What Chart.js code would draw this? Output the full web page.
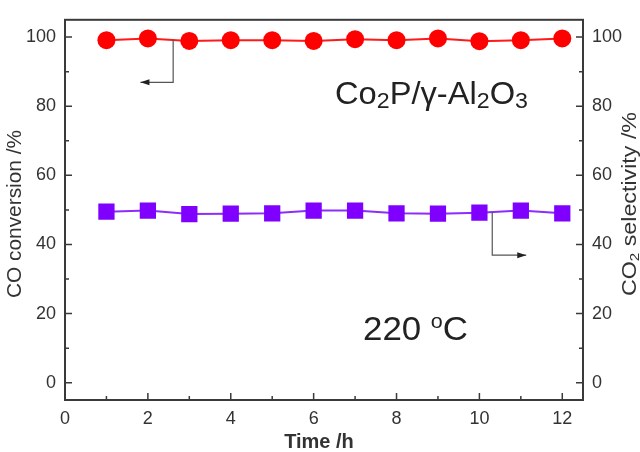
<!DOCTYPE html>
<html>
<head>
<meta charset="utf-8">
<script src="https://cdn.jsdelivr.net/npm/chart.js@4/dist/chart.umd.min.js"></script>
<style>
  html, body { margin: 0; padding: 0; background: #fff; }
  #chartBox { width: 640px; height: 452px; }
</style>
</head>
<body>
<div id="chartBox"><canvas id="stabilityChart" width="640" height="452"></canvas></div>
<script>
// values
const hours = [1, 2, 3, 4, 5, 6, 7, 8, 9, 10, 11, 12];
const coConversion = [99.1, 99.6, 98.9, 99.1, 99.1, 98.9, 99.4, 99.1, 99.6, 98.8, 99.1, 99.6];
const co2Selectivity = [49.5, 49.8, 48.8, 48.9, 49.0, 49.8, 49.8, 49.0, 48.9, 49.2, 49.8, 49.0];
const xTicks = [0, 2, 4, 6, 8, 10, 12];
const xMinor = [1, 3, 5, 7, 9, 11];
const yTicks = [0, 20, 40, 60, 80, 100];
const yMinor = [10, 30, 50, 70, 90];
// axis pointers, [time, value]; last point is the arrow tip
const convArrow = [[2.61, 99.2], [2.61, 86.9], [1.82, 86.9]];
const selArrow = [[10.31, 49.4], [10.31, 36.9], [11.13, 36.9]];

// text pieces: [text, kind]  kind: n = normal, sub, sup
const catalystLabel = [['Co', 'n'], ['2', 'sub'], ['P/γ-Al', 'n'], ['2', 'sub'], ['O', 'n'], ['3', 'sub']];
const tempLabel = [['220 ', 'n'], ['o', 'sup'], ['C', 'n']];
const leftTitle = [['CO conversion /%', 'n']];
const rightTitle = [['CO', 'n'], ['2', 'sub'], [' selectivity /%', 'n']];
const xTitle = 'Time /h';

const FONT = '"Liberation Sans", Arial, Helvetica, sans-serif';
const AXIS = '#3a3a3a';

// draws pieces with sub/superscripts, centred or left aligned, optional forced width
function drawRich(ctx, parts, x, y, size, opts) {
  opts = opts || {};
  const small = Math.round(size * (opts.smallRatio || 0.68));
  const fontFor = k => `${opts.bold ? 'bold ' : ''}${k === 'n' ? size : small}px ${FONT}`;
  let total = 0;
  parts.forEach(([t, k]) => { ctx.font = fontFor(k); total += ctx.measureText(t).width; });
  const sx = opts.width ? opts.width / total : 1;
  ctx.save();
  ctx.translate(x, y);
  if (opts.rotate) ctx.rotate(opts.rotate);
  ctx.scale(sx, 1);
  let cx = opts.align === 'center' ? -total / 2 : 0;
  ctx.fillStyle = opts.color || '#222';
  ctx.textBaseline = 'alphabetic';
  ctx.textAlign = 'left';
  parts.forEach(([t, k]) => {
    ctx.font = fontFor(k);
    let dy = 0;
    if (k === 'sub') dy = size * 0.13;
    if (k === 'sup') dy = -size * 0.36;
    ctx.fillText(t, cx, dy);
    cx += ctx.measureText(t).width;
  });
  ctx.restore();
}

function drawPointer(chart, path) {
  const { ctx, scales } = chart;
  const yScale = path === convArrow ? scales.y : scales.y2;
  const pts = path.map(([t, v]) => [scales.x.getPixelForValue(t), yScale.getPixelForValue(v)]);
  ctx.save();
  ctx.strokeStyle = '#555';
  ctx.lineWidth = 1.2;
  ctx.beginPath();
  pts.forEach(([px, py], i) => i ? ctx.lineTo(px, py) : ctx.moveTo(px, py));
  ctx.stroke();
  const [tx, ty] = pts[pts.length - 1];
  const [bx] = pts[pts.length - 2];
  const dir = tx < bx ? 1 : -1;
  ctx.fillStyle = '#222';
  ctx.beginPath();
  ctx.moveTo(tx, ty);
  ctx.lineTo(tx + dir * 9, ty - 3);
  ctx.lineTo(tx + dir * 9, ty + 3);
  ctx.closePath();
  ctx.fill();
  ctx.restore();
}

const framePlugin = {
  id: 'frame',
  beforeDatasetsDraw(chart) {
    const { ctx, chartArea: a, scales } = chart;
    ctx.save();
    ctx.strokeStyle = AXIS;
    ctx.lineWidth = 2;
    ctx.strokeRect(a.left, a.top, a.right - a.left, a.bottom - a.top);
    ctx.lineWidth = 1.5;
    ctx.beginPath();
    xTicks.concat(xMinor).forEach(v => {
      const px = scales.x.getPixelForValue(v);
      const len = xTicks.includes(v) ? 7 : 4;
      ctx.moveTo(px, a.bottom); ctx.lineTo(px, a.bottom - len);
    });
    yTicks.concat(yMinor).forEach(v => {
      const py = scales.y.getPixelForValue(v);
      const len = yTicks.includes(v) ? 7 : 4;
      ctx.moveTo(a.left, py); ctx.lineTo(a.left + len, py);
      ctx.moveTo(a.right, py); ctx.lineTo(a.right - len, py);
    });
    ctx.stroke();
    ctx.restore();
  },
  afterDatasetsDraw(chart) {
    const { ctx } = chart;
    drawPointer(chart, convArrow);
    drawPointer(chart, selArrow);
    drawRich(ctx, catalystLabel, 335, 104, 31, { width: 193, smallRatio: 0.72 });
    drawRich(ctx, tempLabel, 363, 340, 34, { width: 105, smallRatio: 0.62 });
    drawRich(ctx, leftTitle, 21, 214, 20, { align: 'center', rotate: -Math.PI / 2, color: '#333', width: 168 });
    drawRich(ctx, rightTitle, 636, 204, 20, { align: 'center', rotate: -Math.PI / 2, color: '#333', smallRatio: 0.65, width: 184 });
    drawRich(ctx, [[xTitle, 'n']], 319, 448, 20, { align: 'center', bold: true, color: '#333' });
  }
};

const tickFont = { family: FONT, size: 18 };

function yAxis(position, width) {
  return {
    type: 'linear',
    position,
    min: -5,
    max: 105,
    afterBuildTicks: s => { s.ticks = yTicks.map(v => ({ value: v })); },
    afterFit: s => { s.width = width; },
    ticks: { font: tickFont, color: '#333', padding: 9 },
    grid: { drawOnChartArea: false, drawTicks: false },
    border: { display: false }
  };
}

const ctx = document.getElementById('stabilityChart').getContext('2d');
new Chart(ctx, {
  type: 'line',
  data: {
    datasets: [
      {
        label: 'CO conversion',
        data: hours.map((h, i) => ({ x: h, y: coConversion[i] })),
        yAxisID: 'y',
        borderColor: '#ff1a1a',
        backgroundColor: '#ff0000',
        borderWidth: 2,
        pointStyle: 'circle',
        pointRadius: 9,
        pointBorderWidth: 0,
        tension: 0
      },
      {
        label: 'CO2 selectivity',
        data: hours.map((h, i) => ({ x: h, y: co2Selectivity[i] })),
        yAxisID: 'y2',
        borderColor: '#8c2cff',
        backgroundColor: '#7f00ff',
        borderWidth: 2,
        pointStyle: 'rect',
        pointRadius: 11.5,
        pointBorderWidth: 0,
        tension: 0
      }
    ]
  },
  options: {
    responsive: false,
    animation: false,
    devicePixelRatio: 1,
    layout: { padding: { top: 15, right: 0, left: 0, bottom: 0 } },
    plugins: { legend: { display: false }, tooltip: { enabled: false } },
    scales: {
      x: {
        type: 'linear',
        min: 0,
        max: 12.5,
        afterBuildTicks: s => { s.ticks = xTicks.map(v => ({ value: v })); },
        afterFit: s => { s.height = 52; },
        ticks: { font: tickFont, color: '#333', padding: 8, maxRotation: 0 },
        grid: { drawOnChartArea: false, drawTicks: false },
        border: { display: false }
      },
      y: yAxis('left', 65),
      y2: yAxis('right', 57)
    }
  },
  plugins: [framePlugin]
});
</script>
</body>
</html>
